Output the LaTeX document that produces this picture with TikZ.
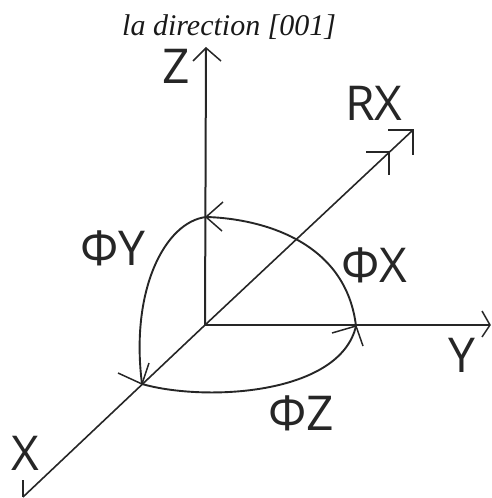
\documentclass[tikz,border=0pt]{standalone}
\usepackage{fontspec}
\setmainfont{Liberation Serif}
\newfontfamily\lblfont{Open Sans}
\tikzset{
  ax/.style={draw=black!85,line width=2pt},
  thinax/.style={draw=black!85,line width=1.6pt},
  arcline/.style={draw=black!85,line width=1.9pt},
  barb/.style={draw=black!85,line width=1.5pt},
  lbl/.style={inner sep=0pt,anchor=base,text=black!85,font=\lblfont\fontsize{48}{48}\selectfont},
  ttl/.style={inner sep=0pt,anchor=base west,text=black!90,font=\fontsize{30}{30}\selectfont\itshape}
}
\begin{document}
\begin{tikzpicture}[x=1pt,y=-1pt]
\useasboundingbox (0,0) rectangle (491,498);
\coordinate (O) at (205,325);
\coordinate (Zt) at (206,48);
\coordinate (Yt) at (490,325);
\coordinate (Xt) at (23,497);
\coordinate (Rt) at (413,130);
\coordinate (R2) at (389,152);
\coordinate (Pz) at (206,217);
\coordinate (Py) at (356,326);
\coordinate (Px) at (142,384);
\draw[ax] (O) -- (Zt);
\draw[ax] (O) -- (Yt);
\draw[thinax] (O) -- (Xt);
\draw[thinax] (O) -- (Rt);
\draw[barb] (193,61) -- (Zt) -- (221,61);
\draw[barb] (482,311) -- (Yt) -- (482,337);
\draw[barb] (23,480) -- (Xt);
\draw[barb] (388,130) -- (Rt) -- (413,155);
\draw[barb] (366,152) -- (R2) -- (389,175);
\draw[arcline] (Pz) .. controls (250,218) and (345,235) .. (Py);
\draw[arcline] (Pz) .. controls (165,222) and (130,290) .. (Px);
\draw[arcline] (Px) .. controls (205,402) and (340,395) .. (Py);
\draw[barb] (223,202) -- (Pz) -- (222,231);
\draw[barb] (332,333) -- (Py) -- (363,346);
\draw[barb] (118,373) -- (Px) -- (149,363);
\node[ttl] (title) at (122,35) {la direction [001]};
\node[lbl] (lz) at (176.5,83) {Z};
\node[lbl] (lrx) at (374,120) {RX};
\node[lbl] (lpy) at (113,265) {ΦY};
\node[lbl] (lpx) at (374,282) {ΦX};
\node[lbl] (lpz) at (301,430) {ΦZ};
\node[lbl] (ly) at (461.5,372) {Y};
\node[lbl] (lx) at (25,470) {X};
\end{tikzpicture}
\end{document}
